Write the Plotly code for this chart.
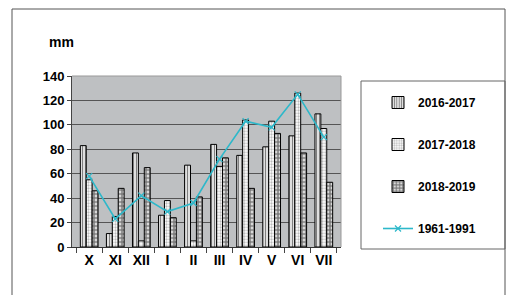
import plotly.graph_objects as go

months = ["X", "XI", "XII", "I", "II", "III", "IV", "V", "VI", "VII"]
s2016_2017 = [83, 11, 77, 26, 67, 84, 75, 82, 91, 109]
s2017_2018 = [55, 25, 5, 38, 5, 66, 104, 103, 126, 97]
s2018_2019 = [46, 48, 65, 24, 41, 73, 48, 93, 77, 53]
s1961_1991 = [58, 23, 42, 29, 36, 72, 103, 98, 125, 90]
y_ticks = [0, 20, 40, 60, 80, 100, 120, 140]

FONT = "Liberation Sans, Arial, sans-serif"

W, H = 506, 295
L, R, T, B = 72, 165, 76, 48
pw, ph = W - L - R, H - T - B


def px(x):
    return (x - L) / pw


def py(y):
    return (H - B - y) / ph


fig = go.Figure()
fig.add_trace(go.Bar(
    x=months, y=s2016_2017, name="2016-2017", legendgroup="a",
    marker=dict(color="white", line=dict(color="black", width=1),
                pattern=dict(shape="|", fgcolor="black", bgcolor="white", size=3, solidity=0.5)),
))
fig.add_trace(go.Bar(
    x=months, y=s2017_2018, name="2017-2018", legendgroup="b",
    marker=dict(color="white", line=dict(color="black", width=1),
                pattern=dict(shape=".", fgcolor="#777777", bgcolor="white", size=3, solidity=0.45)),
))
fig.add_trace(go.Bar(
    x=months, y=s2018_2019, name="2018-2019", legendgroup="c",
    marker=dict(color="white", line=dict(color="black", width=1),
                pattern=dict(shape=".", fgcolor="black", bgcolor="white", size=4, solidity=0.75)),
))
fig.add_trace(go.Scatter(
    x=months, y=s1961_1991, name="1961-1991", legendgroup="d", mode="lines+markers",
    line=dict(color="#2DB8CA", width=1.6),
    marker=dict(symbol="x-thin", size=6, line=dict(color="#2DB8CA", width=1.2), color="#2DB8CA"),
))

fig.update_layout(
    width=W, height=H,
    margin=dict(l=L, r=R, t=T, b=B, autoexpand=False),
    paper_bgcolor="white",
    plot_bgcolor="#BEC0C2",
    barmode="group",
    bargap=0.32,
    bargroupgap=0,
    font=dict(family=FONT, size=13, color="black"),
    showlegend=True,
    legend=dict(
        x=px(378), y=py(88), xanchor="left", yanchor="top",
        bgcolor="rgba(0,0,0,0)", borderwidth=0,
        font=dict(family=FONT, size=12, color="black", weight="bold"),
        tracegroupgap=23,
    ),
    xaxis=dict(
        type="category", tickson="boundaries", ticks="outside", ticklen=5,
        tickcolor="#444", showline=True, linecolor="#333", linewidth=1,
        tickfont=dict(family=FONT, size=14, weight="bold"), showgrid=False,
        tickangle=0, automargin=False,
    ),
    yaxis=dict(
        range=[0, 140], tickvals=y_ticks, ticks="outside", ticklen=4,
        tickcolor="#444", showline=True, linecolor="#444", linewidth=1,
        gridcolor="#555555", gridwidth=1,
        tickfont=dict(family=FONT, size=13, weight="bold"),
        zeroline=False, automargin=False,
    ),
    shapes=[
        dict(type="rect", xref="paper", yref="paper", x0=px(12), x1=px(505), y0=py(300), y1=py(9),
             line=dict(color="#555", width=1), fillcolor="rgba(0,0,0,0)", layer="below"),
        dict(type="rect", xref="paper", yref="paper", x0=px(361), x1=px(505), y0=py(249), y1=py(81),
             line=dict(color="#666", width=1), fillcolor="rgba(0,0,0,0)"),
        dict(type="line", xref="paper", yref="paper", x0=1, x1=1, y0=0, y1=1,
             line=dict(color="#999", width=1)),
        dict(type="line", xref="paper", yref="paper", x0=0, x1=1, y0=1, y1=1,
             line=dict(color="#999", width=1)),
    ],
    annotations=[
        dict(text="mm", xref="paper", yref="paper", x=px(47), y=py(42), xanchor="left", yanchor="middle",
             showarrow=False, font=dict(family=FONT, size=14, weight="bold")),
    ],
)

fig.write_html(
    "out.html",
    config={"displayModeBar": False},
    post_script="document.body.style.margin='0';document.body.style.overflow='hidden';",
)
